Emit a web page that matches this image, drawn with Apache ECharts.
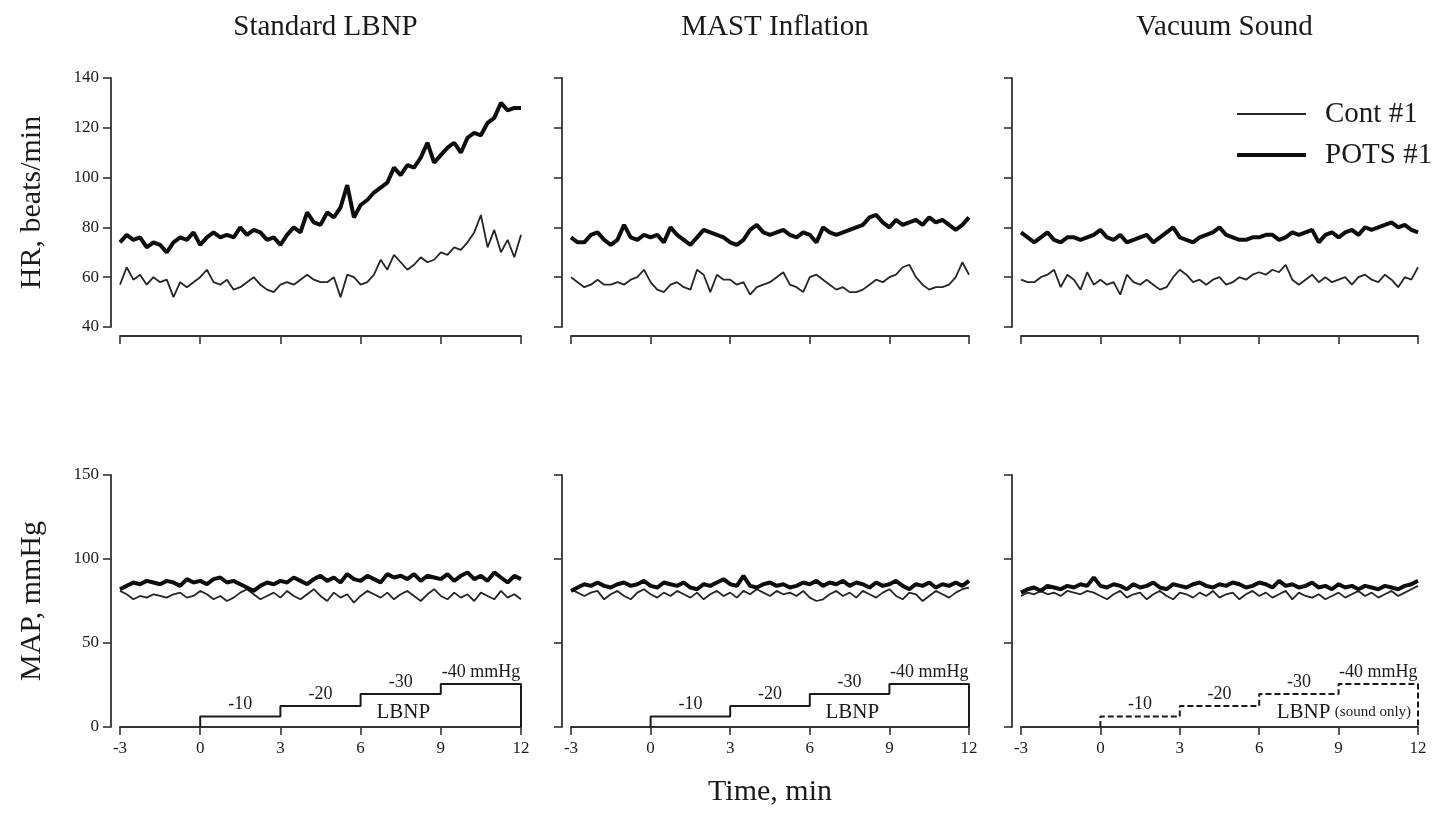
<!DOCTYPE html>
<html>
<head>
<meta charset="utf-8">
<title>HR and MAP during LBNP</title>
<script src="https://cdn.jsdelivr.net/npm/echarts@6/dist/echarts.min.js"></script>
<style>
  html, body { margin: 0; padding: 0; background: #fff; }
  #chart { width: 1445px; height: 817px; }
</style>
</head>
<body>
<div id="chart"></div>
<script>
// time, min (one sample every 15 s)
const times = [
    -3, -2.75, -2.5, -2.25, -2, -1.75, -1.5, -1.25, -1, -0.75, -0.5, -0.25,
    0, 0.25, 0.5, 0.75, 1, 1.25, 1.5, 1.75, 2, 2.25, 2.5, 2.75,
    3, 3.25, 3.5, 3.75, 4, 4.25, 4.5, 4.75, 5, 5.25, 5.5, 5.75,
    6, 6.25, 6.5, 6.75, 7, 7.25, 7.5, 7.75, 8, 8.25, 8.5, 8.75,
    9, 9.25, 9.5, 9.75, 10, 10.25, 10.5, 10.75, 11, 11.25, 11.5, 11.75,
    12
];

const panelTitles = ['Standard LBNP', 'MAST Inflation', 'Vacuum Sound'];
const seriesNames = ['Cont #1', 'POTS #1'];
const xTicks = [-3, 0, 3, 6, 9, 12];
const hrTicks = [40, 60, 80, 100, 120, 140];
const mapTicks = [0, 50, 100, 150];

// HR, beats/min
const hrContStd = [
    57, 64, 59, 61, 57, 60, 58, 59, 52, 58, 56, 58,
    60, 63, 58, 57, 59, 55, 56, 58, 60, 57, 55, 54,
    57, 58, 57, 59, 61, 59, 58, 58, 60, 52, 61, 60,
    57, 58, 61, 67, 63, 69, 66, 63, 65, 68, 66, 67,
    70, 69, 72, 71, 74, 78, 85, 72, 79, 70, 75, 68,
    77
];
const hrPotsStd = [
    74, 77, 75, 76, 72, 74, 73, 70, 74, 76, 75, 78,
    73, 76, 78, 76, 77, 76, 80, 77, 79, 78, 75, 76,
    73, 77, 80, 78, 86, 82, 81, 86, 84, 88, 97, 84,
    89, 91, 94, 96, 98, 104, 101, 105, 104, 108, 114, 106,
    109, 112, 114, 110, 116, 118, 117, 122, 124, 130, 127, 128,
    128
];
const hrContMast = [
    60, 58, 56, 57, 59, 57, 57, 58, 57, 59, 60, 63,
    58, 55, 54, 57, 58, 56, 55, 63, 61, 54, 61, 59,
    59, 57, 58, 53, 56, 57, 58, 60, 62, 57, 56, 54,
    60, 61, 59, 57, 55, 56, 54, 54, 55, 57, 59, 58,
    60, 61, 64, 65, 60, 57, 55, 56, 56, 57, 60, 66,
    61
];
const hrPotsMast = [
    76, 74, 74, 77, 78, 75, 73, 75, 81, 76, 75, 77,
    76, 77, 74, 80, 77, 75, 73, 76, 79, 78, 77, 76,
    74, 73, 75, 79, 81, 78, 77, 78, 79, 77, 76, 78,
    77, 74, 80, 78, 77, 78, 79, 80, 81, 84, 85, 82,
    80, 83, 81, 82, 83, 81, 84, 82, 83, 81, 79, 81,
    84
];
const hrContVac = [
    59, 58, 58, 60, 61, 63, 56, 61, 59, 55, 62, 57,
    59, 57, 58, 53, 61, 58, 57, 59, 57, 55, 56, 60,
    63, 61, 58, 59, 57, 59, 60, 57, 58, 60, 59, 61,
    62, 61, 63, 62, 65, 59, 57, 59, 61, 58, 60, 58,
    59, 60, 57, 60, 61, 59, 58, 61, 59, 56, 60, 59,
    64
];
const hrPotsVac = [
    78, 76, 74, 76, 78, 75, 74, 76, 76, 75, 76, 77,
    79, 76, 75, 77, 74, 75, 76, 77, 74, 76, 78, 80,
    76, 75, 74, 76, 77, 78, 80, 77, 76, 75, 75, 76,
    76, 77, 77, 75, 76, 78, 77, 78, 79, 74, 77, 78,
    76, 78, 79, 77, 80, 79, 80, 81, 82, 80, 81, 79,
    78
];

// MAP, mmHg
const mapContStd = [
    81, 79, 76, 78, 77, 79, 78, 77, 79, 80, 77, 78,
    81, 79, 76, 78, 75, 77, 80, 82, 79, 76, 78, 80,
    77, 81, 78, 76, 79, 82, 78, 75, 80, 77, 79, 74,
    78, 81, 79, 77, 80, 76, 79, 81, 78, 75, 79, 82,
    78, 76, 80, 77, 79, 75, 80, 78, 76, 81, 77, 79,
    76
];
const mapPotsStd = [
    82, 84, 86, 85, 87, 86, 85, 87, 86, 84, 88, 86,
    87, 85, 88, 89, 86, 87, 85, 83, 81, 84, 86, 85,
    87, 86, 89, 87, 85, 88, 90, 87, 89, 86, 91, 88,
    87, 90, 88, 86, 91, 89, 90, 88, 91, 87, 90, 89,
    88, 91, 87, 90, 92, 88, 90, 87, 92, 89, 86, 90,
    88
];
const mapContMast = [
    82, 80, 78, 80, 81, 76, 79, 81, 78, 76, 80, 82,
    79, 77, 80, 78, 81, 79, 77, 80, 76, 79, 81, 78,
    80, 77, 81, 79, 82, 80, 78, 81, 79, 80, 78, 81,
    77, 75, 76, 79, 81, 78, 80, 77, 81, 79, 77, 80,
    82, 78, 76, 80, 79, 75, 78, 81, 79, 77, 80, 82,
    83
];
const mapPotsMast = [
    81, 83, 85, 84, 86, 84, 83, 85, 86, 84, 85, 87,
    84, 83, 86, 85, 84, 86, 83, 82, 85, 84, 86, 88,
    85, 84, 90, 84, 83, 85, 86, 84, 85, 83, 84, 86,
    85, 87, 84, 86, 85, 87, 84, 86, 85, 83, 86, 84,
    85, 87, 84, 82, 85, 84, 86, 83, 85, 84, 86, 84,
    87
];
const mapContVac = [
    78, 80, 79, 81, 79, 80, 78, 81, 80, 79, 81, 80,
    78, 76, 79, 81, 77, 79, 80, 76, 79, 81, 78, 76,
    80, 79, 77, 80, 78, 81, 77, 79, 80, 76, 79, 81,
    78, 80, 77, 79, 81, 76, 80, 78, 77, 79, 76, 78,
    80, 77, 79, 81, 78, 80, 77, 79, 81, 78, 80, 82,
    84
];
const mapPotsVac = [
    80, 82, 83, 81, 84, 83, 82, 84, 83, 85, 84, 89,
    84, 83, 85, 84, 82, 85, 83, 84, 86, 83, 82, 85,
    84, 83, 85, 86, 84, 83, 85, 84, 86, 85, 83, 84,
    86, 85, 83, 87, 84, 85, 83, 84, 86, 83, 84, 82,
    85, 83, 84, 82, 84, 83, 82, 84, 83, 82, 84, 85,
    87
];

// LBNP protocol drawn under the MAP traces (height in MAP axis units)
const lbnpTimes = [0, 3, 6, 9, 12];
const lbnpLevels = [6.3, 12.5, 19.6, 25.6];
const lbnpLabels = ['-10', '-20', '-30', '-40 mmHg'];

(function () {
    let chart = echarts.init(document.querySelector('#chart'));

    const font = "'Liberation Serif', 'Times New Roman', serif";
    const ink = '#1a1a1a';
    const axisColor = '#333';
    const lineColors = ['#262626', '#0d0d0d'];
    const lineWidths = [1.8, 4];

    const gridLeft = [120, 571, 1021];
    const gridWidth = [401, 398, 397];
    const rowTop = [78, 475];
    const rowHeight = [249, 252];

    const hrData = [[hrContStd, hrPotsStd], [hrContMast, hrPotsMast], [hrContVac, hrPotsVac]];
    const mapData = [[mapContStd, mapPotsStd], [mapContMast, mapPotsMast], [mapContVac, mapPotsVac]];

    const pts = (vals) => times.map((t, i) => [t, vals[i]]);

    // step outline of the pressure protocol
    let stepPts = [[lbnpTimes[0], 0]];
    lbnpLevels.forEach((lv, i) => {
        stepPts.push([lbnpTimes[i], lv], [lbnpTimes[i + 1], lv]);
    });
    stepPts.push([lbnpTimes[lbnpTimes.length - 1], 0]);

    let stepLabelPts = lbnpLabels.map((txt, i) => ({
        name: txt,
        value: [(lbnpTimes[i] + lbnpTimes[i + 1]) / 2, lbnpLevels[i]]
    }));

    let grid = [], xAxis = [], yAxis = [], series = [];

    for (let row = 0; row < 2; row++) {
        for (let col = 0; col < 3; col++) {
            let k = row * 3 + col;
            let ticks = row === 0 ? hrTicks : mapTicks;

            grid.push({
                left: gridLeft[col], width: gridWidth[col],
                top: rowTop[row], height: rowHeight[row]
            });

            xAxis.push({
                type: 'value',
                gridIndex: k,
                min: xTicks[0],
                max: xTicks[xTicks.length - 1],
                interval: xTicks[1] - xTicks[0],
                offset: row === 0 ? 9 : 0,
                axisLine: { onZero: false, lineStyle: { color: axisColor, width: 1.8 } },
                axisTick: { length: 8, lineStyle: { color: axisColor, width: 1.6 } },
                axisLabel: { show: row === 1, fontSize: 17, fontFamily: font, color: ink, margin: 13 },
                splitLine: { show: false },
                name: (row === 1 && col === 1) ? 'Time, min' : '',
                nameLocation: 'middle',
                nameGap: 50,
                nameTextStyle: { fontSize: 30, fontFamily: font, color: ink }
            });

            yAxis.push({
                type: 'value',
                gridIndex: k,
                min: ticks[0],
                max: ticks[ticks.length - 1],
                interval: ticks[1] - ticks[0],
                offset: 9,
                axisLine: { show: true, onZero: false, lineStyle: { color: axisColor, width: 1.8 } },
                axisTick: { show: true, length: 8, lineStyle: { color: axisColor, width: 1.6 } },
                axisLabel: { show: col === 0, fontSize: 17, fontFamily: font, color: ink, margin: 12 },
                splitLine: { show: false },
                name: col === 0 ? (row === 0 ? 'HR, beats/min' : 'MAP, mmHg') : '',
                nameLocation: 'middle',
                nameGap: 64,
                nameTextStyle: { fontSize: 30, fontFamily: font, color: ink }
            });

            let vals = row === 0 ? hrData[col] : mapData[col];
            vals.forEach((v, s) => {
                series.push({
                    type: 'line',
                    name: seriesNames[s],
                    xAxisIndex: k,
                    yAxisIndex: k,
                    data: pts(v),
                    symbol: 'none',
                    showSymbol: false,
                    silent: true,
                    lineStyle: { width: lineWidths[s], color: lineColors[s] },
                    itemStyle: { color: lineColors[s] },
                    z: 3 + s
                });
            });

            if (row === 1) {
                let sound = col === 2;
                series.push({
                    type: 'line',
                    name: 'LBNP',
                    xAxisIndex: k,
                    yAxisIndex: k,
                    data: stepPts,
                    symbol: 'none',
                    silent: true,
                    lineStyle: { width: 2, color: '#1a1a1a', type: sound ? [6, 3] : 'solid' },
                    z: 2
                });
                series.push({
                    type: 'scatter',
                    xAxisIndex: k,
                    yAxisIndex: k,
                    symbolSize: 0,
                    silent: true,
                    itemStyle: { opacity: 1 },
                    data: stepLabelPts.concat([{
                        name: sound ? '{a|LBNP} {b|(sound only)}' : '{a|LBNP}',
                        value: sound ? [9.2, 8.8] : [7.6, 8.6],
                        label: { position: 'inside' }
                    }]),
                    label: {
                        show: true,
                        position: 'top',
                        distance: 3,
                        formatter: '{b}',
                        fontSize: 18,
                        fontFamily: font,
                        color: ink,
                        rich: {
                            a: { fontSize: 21, fontFamily: font, color: ink },
                            b: { fontSize: 15, fontFamily: font, color: ink }
                        }
                    }
                });
            }
        }
    }

    const legendBase = {
        left: 1237,
        orient: 'vertical',
        padding: 0,
        itemWidth: 69,
        icon: 'rect',
        selectedMode: false,
        itemStyle: { borderWidth: 0 },
        textStyle: { fontSize: 29, fontFamily: font, color: ink, lineHeight: 34, padding: [0, 0, 0, 14] }
    };

    let option = {
        animation: false,
        backgroundColor: '#fff',
        title: panelTitles.map((t, i) => ({
            text: t,
            left: gridLeft[i] + gridWidth[i] / 2,
            top: 8,
            textAlign: 'center',
            textStyle: { fontSize: 29, fontWeight: 'normal', fontFamily: font, color: ink }
        })),
        legend: [
            Object.assign({}, legendBase, { data: [seriesNames[0]], top: 97, itemHeight: 2 }),
            Object.assign({}, legendBase, { data: [seriesNames[1]], top: 138, itemHeight: 4 })
        ],
        grid: grid,
        xAxis: xAxis,
        yAxis: yAxis,
        series: series
    };

    chart.setOption(option);

    window.addEventListener('resize', () => chart.resize());
})();
</script>
</body>
</html>
